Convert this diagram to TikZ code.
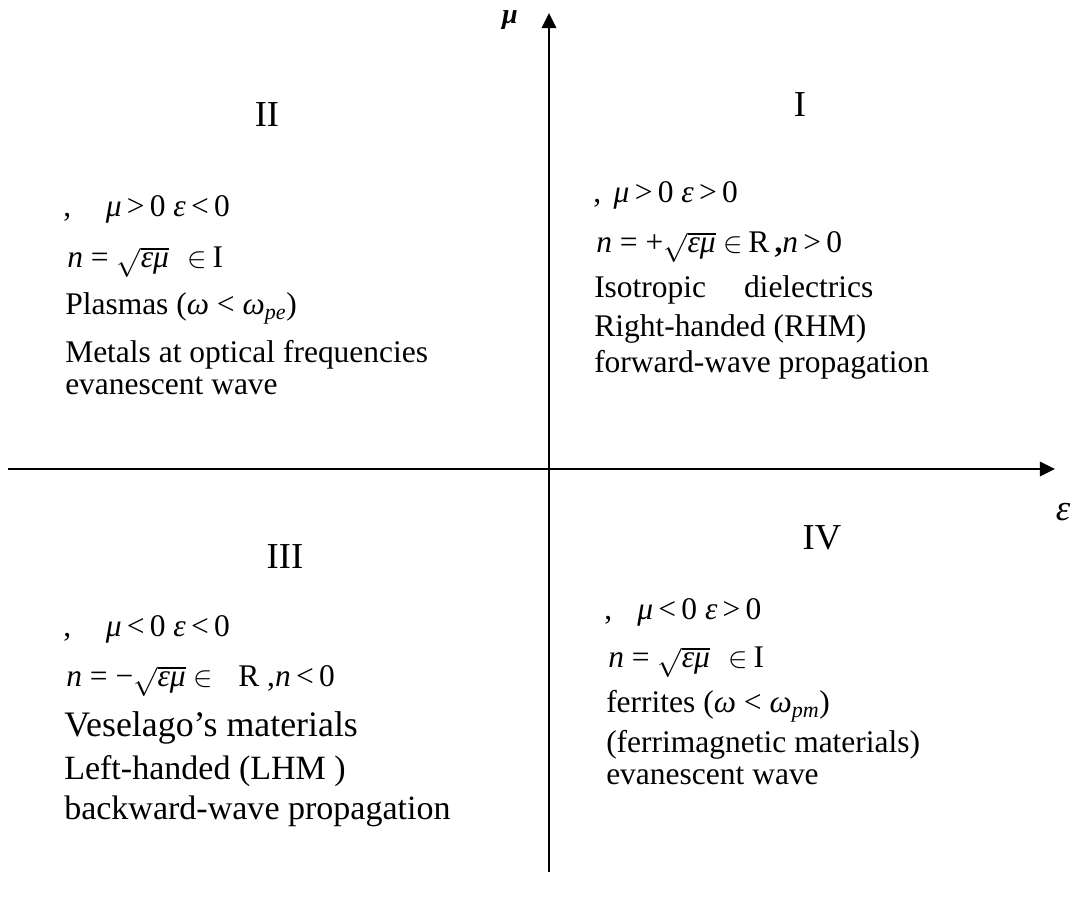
\documentclass[tikz,border=0pt]{standalone}
\usepackage{fontspec}
\setmainfont{Liberation Serif}
\usetikzlibrary{arrows.meta}

\newcommand{\rootepsmu}{$\sqrt{\mbox{\itshape εμ}}$}

\begin{document}
\begin{tikzpicture}[>={Triangle[length=3.8mm, width=3.6mm]}, line width=1.8pt,
  every node/.style={inner sep=0pt, font=\fontsize{22.4}{26}\selectfont},
  qline/.style={anchor=base west},
  qbig/.style={anchor=base west, font=\fontsize{24.2}{28}\selectfont},
  numeral/.style={anchor=base, font=\fontsize{26}{30}\selectfont}]
  \useasboundingbox (-13.725,-10.825) rectangle (13.225,11.725);

  % axes
  \coordinate (epsleft) at (-13.525,0);
  \coordinate (epsright) at (12.65,0);
  \coordinate (mubottom) at (0,-10.075);
  \coordinate (mutop) at (0,11.4);
  \draw[->] (epsleft) -- (epsright);
  \draw[->] (mubottom) -- (mutop);
  \node[font=\fontsize{20}{24}\selectfont\bfseries\itshape] (mulabel) at (-0.975,11.225) {μ};
  \node[font=\fontsize{26}{30}\selectfont\itshape] (epslabel) at (12.85,-1.075) {ε};

  % quadrant I
  \node[numeral] (quad01) at (6.275,8.8) {I};
  \node[qline] (sign01) at (1.075,6.65) {,\hspace{0.4em}\textit{μ}\,>\,0 \textit{ε}\,>\,0};
  \node[qline] (index01) at (1.15,5.4) {\textit{n} = +\rootepsmu\ $\in$\,R\,\textbf{,}\textit{n}\,>\,0};
  \node[qline] (kind01) at (1.1,4.275) {Isotropic\hspace{1.2em}dielectrics};
  \node[qline] (hand01) at (1.1,3.3) {Right-handed (RHM)};
  \node[qline] (wave01) at (1.1,2.4) {forward-wave propagation};

  % quadrant II
  \node[numeral] (quad02) at (-7.05,8.55) {II};
  \node[qline] (sign02) at (-12.175,6.3) {,\hspace{1.1em}\textit{μ}\,>\,0 \textit{ε}\,<\,0};
  \node[qline] (index02) at (-12.075,5.025) {\textit{n} = \rootepsmu\hspace{0.6em}$\in$\,I};
  \node[qline] (kind02) at (-12.125,3.85) {Plasmas (\textit{ω} < \textit{ω}\textsubscript{\itshape pe})};
  \node[qline] (hand02) at (-12.125,2.65) {Metals at optical frequencies};
  \node[qline] (wave02) at (-12.125,1.85) {evanescent wave};

  % quadrant III
  \node[numeral] (quad03) at (-6.6,-2.5) {III};
  \node[qline] (sign03) at (-12.175,-4.2) {,\hspace{1.1em}\textit{μ}\,<\,0 \textit{ε}\,<\,0};
  \node[qline] (index03) at (-12.1,-5.45) {\textit{n} = −\rootepsmu\ $\in$\hspace{0.8em}R ,\textit{n}\,<\,0};
  \node[qbig, font=\fontsize{25.5}{30}\selectfont] (kind03) at (-12.15,-6.7) {Veselago’s materials};
  \node[qbig] (hand03) at (-12.15,-7.775) {Left-handed (LHM )};
  \node[qbig] (wave03) at (-12.15,-8.775) {backward-wave propagation};

  % quadrant IV
  \node[numeral] (quad04) at (6.825,-2.025) {IV};
  \node[qline] (sign04) at (1.35,-3.775) {,\hspace{0.8em}\textit{μ}\,<\,0 \textit{ε}\,>\,0};
  \node[qline] (index04) at (1.45,-4.975) {\textit{n} = \rootepsmu\hspace{0.6em}$\in$\,I};
  \node[qline] (kind04) at (1.4,-6.1) {ferrites (\textit{ω} < \textit{ω}\textsubscript{\itshape pm})};
  \node[qline] (hand04) at (1.4,-7.1) {(ferrimagnetic materials)};
  \node[qline] (wave04) at (1.4,-7.9) {evanescent wave};
\end{tikzpicture}
\end{document}
